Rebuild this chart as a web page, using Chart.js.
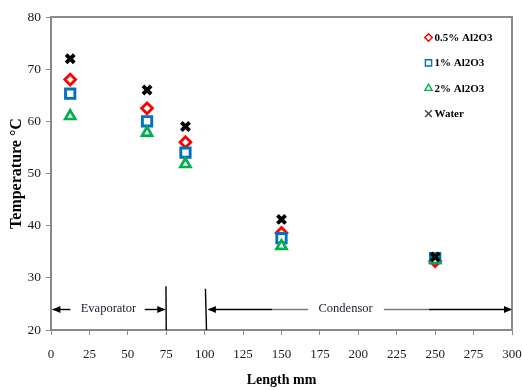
<!DOCTYPE html>
<html>
<head>
<meta charset="utf-8">
<script src="https://cdn.jsdelivr.net/npm/chart.js@4/dist/chart.umd.min.js"></script>
<style>
  html, body { margin: 0; padding: 0; background: #fff; }
  canvas { display: block; }
</style>
</head>
<body>
<canvas id="chart" width="522" height="390"></canvas>
<script>
// Measurement positions along the heat pipe (mm)
const lengthsMm = [12.5, 62.5, 87.5, 150, 250];

// Wall temperatures (°C) for each working fluid
const tempAl05 = [68, 62.5, 56, 38.6, 33.2];
const tempAl1 = [65.3, 60, 54, 37.6, 33.8];
const tempAl2 = [61, 57.8, 51.8, 36.1, 33.4];
const tempWater = [72, 66, 59, 41.2, 34];

const seriesNames = ['0.5% Al2O3', '1% Al2O3', '2% Al2O3', 'Water'];

// Section boundaries (mm) and the temperature level the section labels sit on
const evaporatorEnd = 75;
const condenserStart = 100.5;
const sectionLabelLevel = 24;
const sectionNames = ['Evaporator', 'Condensor'];

const SERIF = "'Liberation Serif', 'Times New Roman', serif";
const AXIS_GREY = '#8a8a8a';

function pts(ys) {
  return lengthsMm.map((x, i) => ({ x: x, y: ys[i] }));
}

const styles = [
  { color: '#ff0000', pointStyle: 'rectRot', radius: 5.4, borderWidth: 2.8, legendRadius: 3.8 },
  { color: '#0070c0', pointStyle: 'rect', radius: 6.6, borderWidth: 2.9, legendRadius: 4.4 },
  { color: '#00b050', pointStyle: 'triangle', radius: 5.8, borderWidth: 2.7, legendRadius: 4.2 },
  { color: '#000000', pointStyle: 'crossRot', radius: 5.8, borderWidth: 3.8, legendRadius: 4.8, legendColor: '#444' }
];

const values = [tempAl05, tempAl1, tempAl2, tempWater];

const datasets = values.map((v, i) => ({
  label: seriesNames[i],
  data: pts(v),
  showLine: false,
  pointStyle: styles[i].pointStyle,
  pointRadius: styles[i].radius,
  pointHoverRadius: styles[i].radius,
  pointBorderWidth: styles[i].borderWidth,
  borderColor: styles[i].color,
  backgroundColor: '#ffffff',
  pointBackgroundColor: '#ffffff',
  // later series are painted over earlier ones
  order: values.length - i
}));

// Grey frame around the plotting area
const framePlugin = {
  id: 'frame',
  beforeDatasetsDraw(chart) {
    const { ctx, chartArea: a } = chart;
    ctx.save();
    ctx.strokeStyle = AXIS_GREY;
    ctx.lineWidth = 2;
    ctx.beginPath();
    ctx.moveTo(a.left, a.top);
    ctx.lineTo(a.right, a.top);
    ctx.lineTo(a.right, a.bottom);
    ctx.stroke();
    ctx.restore();
  }
};

function arrowHead(ctx, x, y, dir) {
  ctx.beginPath();
  ctx.moveTo(x, y);
  ctx.lineTo(x - dir * 8, y - 3.5);
  ctx.lineTo(x - dir * 8, y + 3.5);
  ctx.closePath();
  ctx.fill();
}

function seg(ctx, x1, y1, x2, y2, color) {
  ctx.strokeStyle = color;
  ctx.beginPath();
  ctx.moveTo(x1, y1);
  ctx.lineTo(x2, y2);
  ctx.stroke();
}

// Evaporator / condenser section markers
const sectionPlugin = {
  id: 'sections',
  afterDatasetsDraw(chart) {
    const { ctx } = chart;
    const xs = chart.scales.x, ys = chart.scales.y;
    const px = v => xs.getPixelForValue(v);
    const py = v => ys.getPixelForValue(v);
    const yl = Math.round(py(sectionLabelLevel)) + 0.5;
    ctx.save();
    ctx.lineWidth = 1.4;
    ctx.fillStyle = '#000';

    // dividers between the sections
    seg(ctx, px(evaporatorEnd - 0.2), py(28.4), px(evaporatorEnd), py(20), '#000');
    seg(ctx, px(condenserStart), py(27.9), px(condenserStart + 0.7), py(20), '#000');

    // evaporator arrows
    seg(ctx, px(1), yl, px(12.6), yl, '#000');
    arrowHead(ctx, px(0.9), yl, -1);
    seg(ctx, px(61), yl, px(evaporatorEnd - 1), yl, '#000');
    arrowHead(ctx, px(evaporatorEnd - 0.6), yl, 1);

    // condenser arrows
    seg(ctx, px(condenserStart + 2), yl, px(144), yl, '#000');
    seg(ctx, px(144), yl, px(167.3), yl, '#7a7a7a');
    arrowHead(ctx, px(condenserStart + 1.6), yl, -1);
    seg(ctx, px(216.6), yl, px(246), yl, '#7a7a7a');
    seg(ctx, px(246), yl, px(299), yl, '#000');
    arrowHead(ctx, px(300), yl, 1);

    ctx.font = '12.5px ' + SERIF;
    ctx.fillStyle = '#1c1c30';
    ctx.textAlign = 'center';
    ctx.textBaseline = 'middle';
    ctx.fillText(sectionNames[0], px(37.4), yl - 1);
    ctx.fillText(sectionNames[1], px(191.7), yl - 1);
    ctx.restore();
  }
};

// Legend drawn inside the plotting area, top right
const legendPlugin = {
  id: 'innerLegend',
  afterDraw(chart) {
    const { ctx, chartArea: a } = chart;
    const mx = a.right - 83.5;
    const y0 = a.top + 20.5;
    const step = 25.4;
    ctx.save();
    ctx.font = 'bold 11px ' + SERIF;
    ctx.textBaseline = 'middle';
    ctx.textAlign = 'left';
    seriesNames.forEach((name, i) => {
      const s = styles[i];
      const y = y0 + i * step;
      ctx.strokeStyle = s.legendColor || s.color;
      ctx.fillStyle = '#ffffff';
      ctx.lineWidth = 1.4;
      Chart.helpers.drawPoint(ctx, {
        pointStyle: s.pointStyle,
        radius: s.legendRadius,
        borderWidth: ctx.lineWidth,
        rotation: 0
      }, mx, y);
      ctx.fillStyle = '#000';
      ctx.fillText(name, mx + 6, y + 0.5);
    });
    ctx.restore();
  }
};

new Chart(document.getElementById('chart'), {
  type: 'scatter',
  data: { datasets: datasets },
  plugins: [framePlugin, sectionPlugin, legendPlugin],
  options: {
    responsive: false,
    devicePixelRatio: 1,
    animation: false,
    layout: { padding: { top: 17, right: 0, left: 0, bottom: 0 } },
    plugins: {
      legend: { display: false },
      tooltip: { enabled: false }
    },
    scales: {
      x: {
        type: 'linear',
        min: 0,
        max: 300,
        ticks: {
          stepSize: 25,
          padding: 12,
          color: '#1a1a1a',
          font: { family: SERIF, size: 13 }
        },
        grid: { drawOnChartArea: false, drawTicks: true, tickLength: 5, color: AXIS_GREY, lineWidth: 1 },
        border: { display: true, color: AXIS_GREY, width: 2 },
        title: {
          display: true,
          text: 'Length mm',
          color: '#000',
          font: { family: SERIF, size: 14, weight: 'bold' },
          padding: { top: 0, bottom: 1 }
        },
        afterFit(scale) {
          scale.height = 60;
          scale.paddingLeft = 0;
          scale.paddingRight = 10;
        }
      },
      y: {
        type: 'linear',
        min: 20,
        max: 80,
        ticks: {
          stepSize: 10,
          padding: 5,
          color: '#1a1a1a',
          font: { family: SERIF, size: 13.5 }
        },
        grid: { drawOnChartArea: false, drawTicks: true, tickLength: 5, color: AXIS_GREY, lineWidth: 1 },
        border: { display: true, color: AXIS_GREY, width: 2 },
        title: {
          display: true,
          text: 'Temperature °C',
          color: '#000',
          font: { family: SERIF, size: 16, weight: 'bold' },
          padding: { top: 7, bottom: 0 }
        },
        afterFit(scale) {
          scale.width = 51;
          scale.paddingTop = 0;
          scale.paddingBottom = 0;
        }
      }
    }
  }
});
</script>
</body>
</html>
